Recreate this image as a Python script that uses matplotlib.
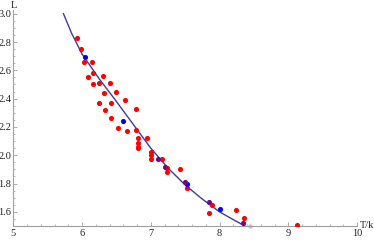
import matplotlib
matplotlib.use("Agg")
import matplotlib.pyplot as plt
from matplotlib.ticker import MultipleLocator, FormatStrFormatter

# Red measured points (T/k, L)
red_T = [5.92, 5.98, 6.03, 6.14, 6.16, 6.30, 6.09, 6.24, 6.40, 6.16,
         6.32, 6.50, 6.63, 6.24, 6.42, 6.78, 6.33, 6.42, 6.53, 6.66,
         6.78, 6.95, 6.81, 6.81, 6.81, 6.81, 7.00, 7.00, 7.00, 7.16,
         7.23, 7.23, 7.42, 7.52, 7.89, 7.85, 8.24, 8.36, 9.12]
red_L = [2.83, 2.75, 2.66, 2.66, 2.58, 2.56, 2.55, 2.51, 2.51, 2.50,
         2.44, 2.45, 2.39, 2.37, 2.37, 2.33, 2.32, 2.26, 2.19, 2.17,
         2.18, 2.12, 2.12, 2.09, 2.06, 2.05, 2.02, 2.00, 1.97, 1.97,
         1.91, 1.88, 1.90, 1.77, 1.65, 1.59, 1.61, 1.555, 1.506]

# Blue points
blue_T = [6.05, 6.60, 7.52, 8.01]
blue_L = [2.695, 2.245, 1.80, 1.62]

# Purple points
purple_T = [7.11, 7.20, 7.50, 7.85, 8.34]
purple_L = [1.97, 1.92, 1.81, 1.673, 1.52]

# Faint point at the axis
faint_T = [8.45]
faint_L = [1.497]

# Fitted curve
curve_T = [5.73, 5.85, 6.00, 6.25, 6.50, 6.75, 7.00, 7.25, 7.50, 7.75, 8.00, 8.20, 8.37]
curve_L = [3.00, 2.86, 2.715, 2.54, 2.38, 2.215, 2.05, 1.91, 1.79, 1.69, 1.60, 1.545, 1.50]

x_ticks = [5, 6, 7, 8, 9, 10]
y_ticks = [1.6, 1.8, 2.0, 2.2, 2.4, 2.6, 2.8, 3.0]

plt.rcParams['font.family'] = ['Liberation Serif', 'DejaVu Serif']

fig = plt.figure(figsize=(3.74, 2.40), dpi=100)
ax = fig.add_axes([13.3 / 374, 1 - 226 / 240, (357 - 13.3) / 374, (226 - 9.5) / 240])

ax.plot(curve_T, curve_L, color='#3d3d99', lw=1.0, zorder=2)
ax.plot(red_T, red_L, 'o', color='#ff0000', ms=3.7, mew=0, zorder=3)
ax.plot(blue_T, blue_L, 'o', color='#0000ff', ms=3.7, mew=0, zorder=4)
ax.plot(purple_T, purple_L, 'o', color='#800080', ms=3.7, mew=0, zorder=4)
ax.plot(faint_T, faint_L, 'o', color='#b070c0', ms=3.2, mew=0, alpha=0.5,
        zorder=1, clip_on=False)

ax.set_xlim(5, 10)
ax.set_ylim(1.5, 3.03)

for s in ['top', 'right']:
    ax.spines[s].set_visible(False)
for s in ['left', 'bottom']:
    ax.spines[s].set_color('#a0a0a0')
    ax.spines[s].set_linewidth(0.8)

ax.set_xticks(x_ticks)
ax.set_yticks(y_ticks)
ax.xaxis.set_major_formatter(FormatStrFormatter('%d'))
ax.yaxis.set_major_formatter(FormatStrFormatter('%.1f'))
ax.xaxis.set_minor_locator(MultipleLocator(0.2))
ax.yaxis.set_minor_locator(MultipleLocator(0.05))
ax.tick_params(which='both', direction='in', color='#a0a0a0', labelsize=7.5,
               labelcolor='#222222')
ax.tick_params(which='major', length=3.0, width=0.6)
ax.tick_params(which='minor', length=1.6, width=0.5)
ax.tick_params(axis='x', pad=2.5)
ax.tick_params(axis='y', pad=1.5)

fig.text(13.5 / 374, 1 - 6 / 240, 'L', ha='center', va='center', fontsize=7.5,
         color='#222222')
fig.text(360 / 374, 1 - 225 / 240, 'T/k', ha='left', va='center', fontsize=7.5,
         color='#222222')

fig.savefig('out.png', dpi=100)
